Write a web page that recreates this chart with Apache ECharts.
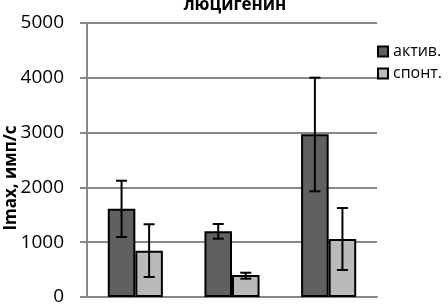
<!DOCTYPE html>
<html>
<head>
<meta charset="utf-8">
<script src="https://cdn.jsdelivr.net/npm/echarts@6/dist/echarts.min.js"></script>
<style>
  html, body { margin: 0; padding: 0; background: #fff; }
  #chart { width: 448px; height: 304px; }
</style>
</head>
<body>
<div id="chart"></div>
<script>
// данные
var categories = ["1", "2", "3"];
var activValues = [1610, 1200, 2970];
var activLow = [1095, 1064, 1929];
var activHigh = [2122, 1332, 4002];
var spontValues = [845, 400, 1060];
var spontLow = [365, 334, 493];
var spontHigh = [1327, 443, 1624];
var yTicks = [0, 1000, 2000, 3000, 4000, 5000];

var GAP = 0.43;
var font = "'Open Sans', 'DejaVu Sans', sans-serif";

// планки погрешностей
function errorBars(side) {
  return function (params, api) {
    var idx = api.value(0);
    var catW = api.size([1, 0])[0];
    var barW = catW * (1 - GAP) / 2;
    var top = api.coord([idx, api.value(2)]);
    var bot = api.coord([idx, api.value(1)]);
    var x = top[0] + side * barW / 2;
    var cap = 5.5;
    var style = { stroke: "#000", lineWidth: 2 };
    return {
      type: "group",
      children: [
        { type: "line", shape: { x1: x, y1: top[1], x2: x, y2: bot[1] }, style: style },
        { type: "line", shape: { x1: x - cap, y1: top[1], x2: x + cap, y2: top[1] }, style: style },
        { type: "line", shape: { x1: x - cap, y1: bot[1], x2: x + cap, y2: bot[1] }, style: style }
      ]
    };
  };
}

var chart = echarts.init(document.getElementById("chart"));
chart.setOption({
  animation: false,
  backgroundColor: "#fff",
  title: {
    text: "люцигенин",
    left: 230,
    textAlign: "center",
    top: -8,
    textStyle: { fontFamily: font, fontSize: 17, fontWeight: "bold", color: "#000" }
  },
  legend: {
    orient: "vertical",
    left: 377,
    top: 43,
    padding: 0,
    icon: "rect",
    itemWidth: 10,
    itemHeight: 10,
    itemGap: 5,
    data: ["актив.", "спонт."],
    textStyle: { fontFamily: font, fontSize: 16, lineHeight: 17, color: "#000" }
  },
  // подпись оси Y
  graphic: [{
    type: "text",
    x: 11,
    y: 178,
    rotation: Math.PI / 2,
    style: {
      text: "Imax, имп/с",
      fontFamily: font,
      fontSize: 17,
      fontWeight: "bold",
      fill: "#000",
      align: "center",
      verticalAlign: "middle"
    }
  }],
  grid: { left: 87, right: 71, top: 23, bottom: 7, outerBoundsMode: "none" },
  xAxis: {
    type: "category",
    data: categories,
    axisLine: { show: true, lineStyle: { color: "#888", width: 2 } },
    axisTick: { show: false },
    axisLabel: { show: false }
  },
  yAxis: {
    type: "value",
    min: 0,
    max: 5000,
    interval: 1000,
    axisLine: { show: true, lineStyle: { color: "#888", width: 2 } },
    axisTick: { show: true, length: 7, lineStyle: { color: "#888", width: 2 } },
    axisLabel: {
      fontFamily: font,
      fontSize: 19,
      color: "#000",
      margin: 23,
      formatter: function (v) { return yTicks.indexOf(v) >= 0 ? String(v) : ""; }
    },
    splitLine: { lineStyle: { color: "#888", width: 2 } }
  },
  series: [
    {
      name: "актив.",
      type: "bar",
      data: activValues,
      barGap: "0%",
      barCategoryGap: GAP * 100 + "%",
      itemStyle: { color: "#606060", borderColor: "#000", borderWidth: 2 }
    },
    {
      name: "спонт.",
      type: "bar",
      data: spontValues,
      itemStyle: { color: "#bababa", borderColor: "#000", borderWidth: 2 }
    },
    {
      type: "custom",
      renderItem: errorBars(-1),
      data: categories.map(function (c, i) { return [i, activLow[i], activHigh[i]]; }),
      encode: { x: 0, y: [1, 2] },
      z: 10
    },
    {
      type: "custom",
      renderItem: errorBars(1),
      data: categories.map(function (c, i) { return [i, spontLow[i], spontHigh[i]]; }),
      encode: { x: 0, y: [1, 2] },
      z: 10
    }
  ]
});
</script>
</body>
</html>
